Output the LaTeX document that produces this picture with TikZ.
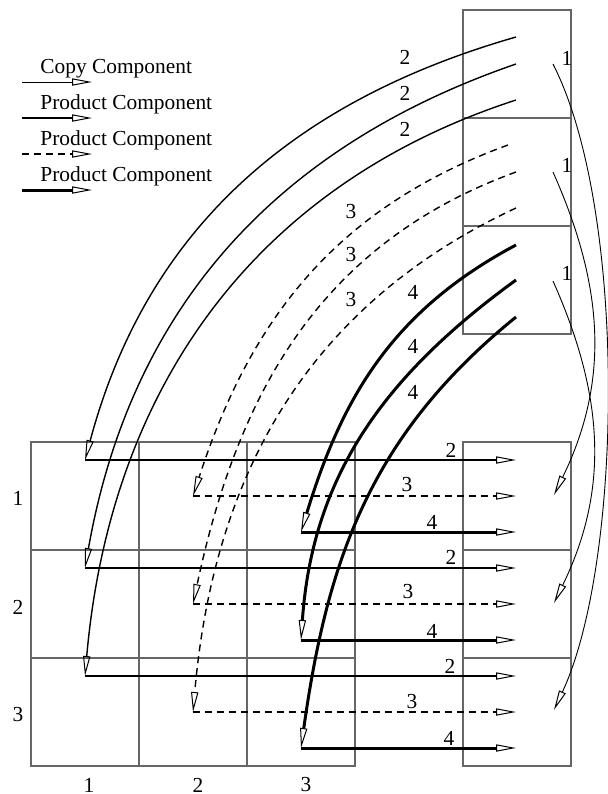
\documentclass[tikz,border=0pt]{standalone}
\usepackage{fontspec}
\setmainfont{Liberation Serif}
\usetikzlibrary{arrows.meta}

\begin{document}
\begin{tikzpicture}[
    x=0.5pt, y=-0.5pt,
    every node/.style={font=\fontsize{10.7}{12.8}\selectfont},
    numlabel/.style={inner sep=0pt},
    gridcell/.style={rectangle, draw=black!60, line width=0.6pt,
                     minimum width=54pt, minimum height=54pt, inner sep=0pt},
    opentip/.style={-{Triangle[open, length=10pt, width=3.6pt, line width=0.5pt]}},
    copyarrow/.style={opentip, line width=0.45pt},
    prodarrow/.style={opentip, line width=0.7pt},
    dasharrow/.style={prodarrow, dash pattern=on 3.5pt off 2.5pt},
    thickarrow/.style={opentip, line width=1.5pt}
]
\useasboundingbox (0,0) rectangle (607,794);

% Legend
\node[anchor=base west, inner sep=0pt] at (40,73) (lgcopy) {Copy Component};
\node[anchor=base west, inner sep=0pt] at (40,109) (lgprod) {Product Component};
\node[anchor=base west, inner sep=0pt] at (40,145) (lgdash) {Product Component};
\node[anchor=base west, inner sep=0pt] at (40,181) (lgthick) {Product Component};
\coordinate (lg1s) at (22,82);  \coordinate (lg1e) at (92,82);
\coordinate (lg2s) at (22,118); \coordinate (lg2e) at (92,118);
\coordinate (lg3s) at (22,154); \coordinate (lg3e) at (92,154);
\coordinate (lg4s) at (22,190); \coordinate (lg4e) at (92,190);
\draw[copyarrow] (lg1s) -- (lg1e);
\draw[prodarrow] (lg2s) -- (lg2e);
\draw[dasharrow] (lg3s) -- (lg3e);
\draw[thickarrow] (lg4s) -- (lg4e);

% Source column (top right)
\node[gridcell] at (517,64) (t1) {};
\node[gridcell] at (517,172) (t2) {};
\node[gridcell] at (517,280) (t3) {};

% Product matrix
\node[gridcell] at (85,496) (g11) {};
\node[gridcell] at (193,496) (g12) {};
\node[gridcell] at (301,496) (g13) {};
\node[gridcell] at (85,604) (g21) {};
\node[gridcell] at (193,604) (g22) {};
\node[gridcell] at (301,604) (g23) {};
\node[gridcell] at (85,712) (g31) {};
\node[gridcell] at (193,712) (g32) {};
\node[gridcell] at (301,712) (g33) {};

% Result column (bottom right)
\node[gridcell] at (517,496) (r1) {};
\node[gridcell] at (517,604) (r2) {};
\node[gridcell] at (517,712) (r3) {};

% Row and column numbers
\node[numlabel] at (18,498) (row1) {1};
\node[numlabel] at (18,607) (row2) {2};
\node[numlabel] at (18,715) (row3) {3};
\node[numlabel] at (89,785) (col1) {1};
\node[numlabel] at (198,785) (col2) {2};
\node[numlabel] at (306,785) (col3) {3};

% Start points in the source column
\coordinate (s2a) at (516,37);  \coordinate (s2b) at (516,64);  \coordinate (s2c) at (516,100);
\coordinate (s3a) at (508,145); \coordinate (s3b) at (516,172); \coordinate (s3c) at (516,208);
\coordinate (s4a) at (516,245); \coordinate (s4b) at (516,280); \coordinate (s4c) at (516,317);
\coordinate (s1a) at (553,64);  \coordinate (s1b) at (553,172); \coordinate (s1c) at (553,281);

% Corner points in the matrix
\coordinate (h2a) at (85,460);  \coordinate (h3a) at (193,496); \coordinate (h4a) at (301,532);
\coordinate (h2b) at (85,568);  \coordinate (h3b) at (193,604); \coordinate (h4b) at (301,640);
\coordinate (h2c) at (85,676);  \coordinate (h3c) at (193,712); \coordinate (h4c) at (301,748);

% End points in the result column
\coordinate (e2a) at (516,460); \coordinate (e3a) at (516,496); \coordinate (e4a) at (516,532);
\coordinate (e2b) at (516,568); \coordinate (e3b) at (516,604); \coordinate (e4b) at (516,640);
\coordinate (e2c) at (516,676); \coordinate (e3c) at (516,712); \coordinate (e4c) at (516,748);
\coordinate (p1) at (554,495);  \coordinate (p2) at (554,603);  \coordinate (p3) at (554,710);

% Copy components
\draw[copyarrow] (s1a) to[out=-63, in=65, looseness=0.65] (p3);
\draw[copyarrow] (s1b) to[out=-66, in=64] (p1);
\draw[copyarrow] (s1c) to[out=-66, in=64] (p2);
\node[numlabel] at (567,58) (n1a) {1};
\node[numlabel] at (567,165) (n1b) {1};
\node[numlabel] at (567,273) (n1c) {1};

% Curved product components
\draw[prodarrow] (s2a) to[out=196, in=75] (h2a);
\draw[prodarrow] (s2b) to[out=199, in=80] (h2b);
\draw[prodarrow] (s2c) to[out=198, in=85] (h2c);
\node[numlabel] at (405,57) (c2a) {2};
\node[numlabel] at (405,93) (c2b) {2};
\node[numlabel] at (405,129) (c2c) {2};

\draw[dasharrow] (s3a) to[out=200, in=72] (h3a);
\draw[dasharrow] (s3b) to[out=200, in=78] (h3b);
\draw[dasharrow] (s3c) to[out=205, in=85] (h3c);
\node[numlabel] at (351,212) (c3a) {3};
\node[numlabel] at (351,255) (c3b) {3};
\node[numlabel] at (351,300) (c3c) {3};

\draw[thickarrow] (s4a) to[out=208, in=73] (h4a);
\draw[thickarrow] (s4b) to[out=216, in=86] (h4b);
\draw[thickarrow] (s4c) to[out=219, in=82] (h4c);
\node[numlabel] at (413,292) (c4a) {4};
\node[numlabel] at (413,346) (c4b) {4};
\node[numlabel] at (413,392) (c4c) {4};

% Straight product components
\draw[prodarrow] (h2a) -- (e2a);
\draw[dasharrow] (h3a) -- (e3a);
\draw[thickarrow] (h4a) -- (e4a);
\draw[prodarrow] (h2b) -- (e2b);
\draw[dasharrow] (h3b) -- (e3b);
\draw[thickarrow] (h4b) -- (e4b);
\draw[prodarrow] (h2c) -- (e2c);
\draw[dasharrow] (h3c) -- (e3c);
\draw[thickarrow] (h4c) -- (e4c);
\node[numlabel] at (451,450) (l2a) {2};
\node[numlabel] at (407,485) (l3a) {3};
\node[numlabel] at (432,522) (l4a) {4};
\node[numlabel] at (451,557) (l2b) {2};
\node[numlabel] at (408,592) (l3b) {3};
\node[numlabel] at (432,631) (l4b) {4};
\node[numlabel] at (450,666) (l2c) {2};
\node[numlabel] at (412,702) (l3c) {3};
\node[numlabel] at (449,738) (l4c) {4};

\end{tikzpicture}
\end{document}
